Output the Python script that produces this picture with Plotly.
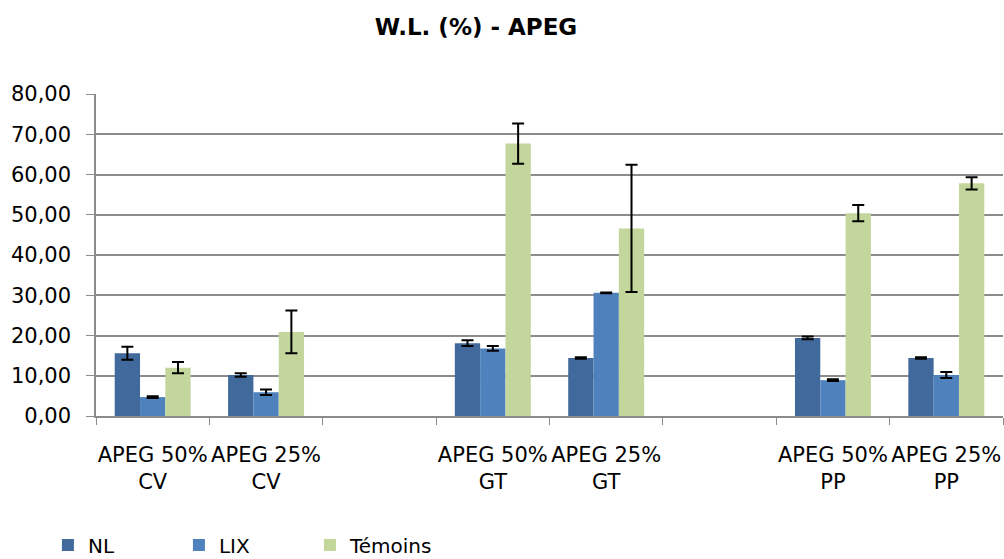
import plotly.graph_objects as go

categories = ["APEG 50%<br>CV", "APEG 25%<br>CV", " ",
              "APEG 50%<br>GT", "APEG 25%<br>GT", "  ",
              "APEG 50%<br>PP", "APEG 25%<br>PP"]

nl = [15.6, 10.2, None, 18.1, 14.4, None, 19.4, 14.4]
nl_err = [1.6, 0.45, None, 0.7, 0.2, None, 0.35, 0.2]
lix = [4.7, 5.9, None, 16.8, 30.6, None, 8.9, 10.2]
lix_err = [0.2, 0.7, None, 0.6, 0.1, None, 0.2, 0.75]
temoins = [12.0, 20.9, None, 67.7, 46.6, None, 50.4, 57.8]
temoins_err = [1.4, 5.3, None, 5.0, 15.8, None, 2.0, 1.5]

series = [
    ("NL", nl, nl_err, "#41699B"),
    ("LIX", lix, lix_err, "#4F81BD"),
    ("Témoins", temoins, temoins_err, "#C3D69B"),
]

font_family = "'DejaVu Sans', sans-serif"

fig = go.Figure()
for name, vals, errs, color in series:
    fig.add_trace(go.Bar(
        name=name, x=categories, y=vals,
        marker=dict(color=color, line=dict(width=0)),
        error_y=dict(type="data", array=errs, visible=True,
                     color="black", thickness=2, width=6),
    ))

fig.update_layout(
    width=1004, height=559,
    margin=dict(l=96, r=1, t=94, b=143),
    barmode="group", bargap=0.33, bargroupgap=0,
    paper_bgcolor="white", plot_bgcolor="white",
    font=dict(family=font_family, size=21, color="black"),
    title=dict(text="<b>W.L. (%) - APEG</b>", x=476/1004, xanchor="center",
               y=1 - 27/559, yanchor="middle",
               font=dict(size=23, family=font_family)),
    legend=dict(orientation="h", x=-0.053, xanchor="left",
                yref="container", y=14/559, yanchor="middle",
                font=dict(size=20), entrywidth=86, entrywidthmode="pixels",
                itemwidth=30, traceorder="normal"),
    showlegend=True,
    separators=", ",
)

fig.update_yaxes(range=[0, 80], dtick=10, tickformat=".2f",
                 showgrid=True, gridcolor="#8C8C8C", gridwidth=1.5,
                 showline=True, linecolor="#8C8C8C", linewidth=1.5,
                 ticks="outside", ticklen=8, tickcolor="#8C8C8C",
                 ticklabelstandoff=11,
                 zeroline=False, fixedrange=True, automargin=False)
fig.update_xaxes(type="category", showgrid=False, tickangle=0,
                 showline=True, linecolor="#8C8C8C", linewidth=1.5,
                 ticks="outside", ticklen=7, tickcolor="#8C8C8C",
                 tickson="boundaries", ticklabelstandoff=19, automargin=False)

fig.write_html("out.html", config={"displayModeBar": False},
               post_script="document.body.style.margin='0';document.body.style.overflow='hidden';")
